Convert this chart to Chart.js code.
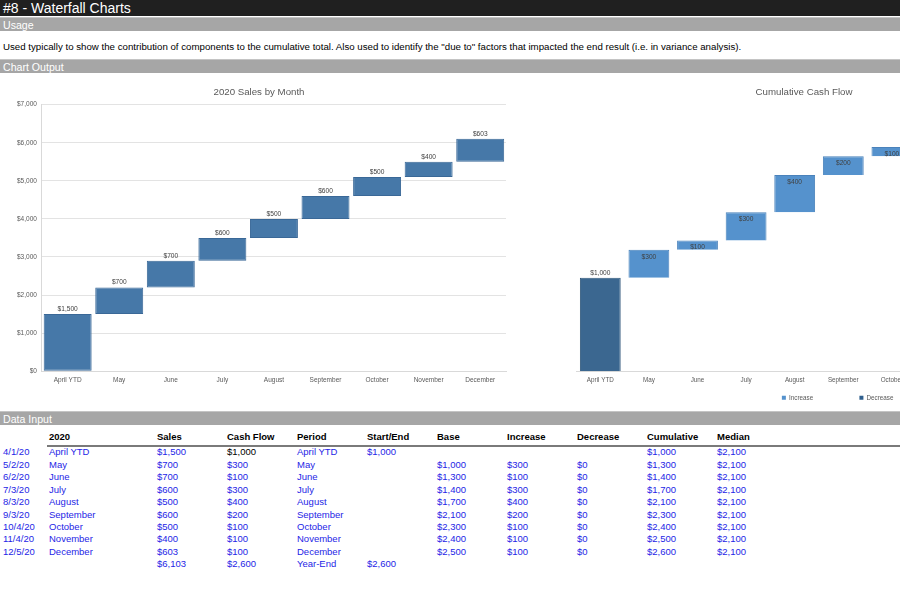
<!DOCTYPE html>
<html lang="en">
<head>
<meta charset="UTF-8">
<title>#8 - Waterfall Charts</title>
<script src="https://cdn.jsdelivr.net/npm/chart.js"></script>
<style>
    html, body {
        margin: 0;
        padding: 0;
        width: 900px;
        height: 600px;
        overflow: hidden;
        background: #fff;
        font-family: 'Liberation Sans', Arial, sans-serif;
    }
    .titlebar {
        position: absolute;
        left: 0; top: 0;
        width: 900px; height: 16px;
        background: #202020;
        color: #fff;
        font-size: 14px;
        line-height: 16px;
        padding-left: 3px;
        box-sizing: border-box;
    }
    .band {
        position: absolute;
        left: 0;
        width: 900px; height: 14px;
        background: #a6a6a6;
        border-top: 1px solid #c4c4c4;
        color: #fff;
        font-size: 10.6px;
        line-height: 14px;
        padding-left: 3px;
        box-sizing: border-box;
    }
    .usage-text {
        position: absolute;
        left: 3px; top: 41px;
        font-size: 9.7px;
        color: #000;
        white-space: nowrap;
    }
    canvas { position: absolute; }
    .cell {
        position: absolute;
        font-size: 9.5px;
        line-height: 12px;
        white-space: nowrap;
        color: #1e1ee6;
    }
    .cell.head { font-weight: bold; color: #000; }
    .cell.black { color: #000; }
    .rule {
        position: absolute;
        left: 47px; top: 445px;
        width: 853px; height: 2px;
        background: #7a7a7a;
    }
</style>
</head>
<body>
    <div class="titlebar">#8 - Waterfall Charts</div>
    <div class="band" style="top:17px">Usage</div>
    <div class="usage-text">Used typically to show the contribution of components to the cumulative total. Also used to identify the "due to" factors that impacted the end result (i.e. in variance analysis).</div>
    <div class="band" style="top:59px">Chart Output</div>

    <canvas id="salesChart" width="524" height="309" style="left:0;top:80px"></canvas>
    <canvas id="cashChart" width="516" height="331" style="left:546px;top:80px"></canvas>

    <div class="band" style="top:411px">Data Input</div>
    <div class="rule"></div>
    <div id="table"></div>

<script>
    // chart data
    const months = ['April YTD', 'May', 'June', 'July', 'August', 'September', 'October', 'November', 'December'];
    const dates = ['4/1/20', '5/2/20', '6/2/20', '7/3/20', '8/3/20', '9/3/20', '10/4/20', '11/4/20', '12/5/20'];
    const sales = [1500, 700, 700, 600, 500, 600, 500, 400, 603];
    const cashFlow = [1000, 300, 100, 300, 400, 200, 100, 100, 100];

    const periods = ['April YTD', 'May', 'June', 'July', 'August', 'September', 'October', 'November', 'December', 'Year-End'];
    const startEnd = [1000, null, null, null, null, null, null, null, null, 2600];
    const base = [null, 1000, 1300, 1400, 1700, 2100, 2300, 2400, 2500, null];
    const increase = [null, 300, 100, 300, 400, 200, 100, 100, 100, null];
    const decrease = [null, 0, 0, 0, 0, 0, 0, 0, 0, null];
    const cumulative = [1000, 1300, 1400, 1700, 2100, 2300, 2400, 2500, 2600];
    const median = [2100, 2100, 2100, 2100, 2100, 2100, 2100, 2100, 2100];

    const salesTicks = { min: 0, max: 7000, step: 1000 };

    const money = v => '$' + v.toLocaleString('en-US');
    const FONT = "'Liberation Sans', Arial, sans-serif";
    const nbsp = n => '\u00a0'.repeat(n);

    // waterfall ranges for the sales chart
    let running = 0;
    const salesRanges = sales.map(v => {
        const r = [running, running + v];
        running += v;
        return r;
    });

    // value labels drawn on top of / inside the bars
    const barLabels = {
        id: 'barLabels',
        afterDatasetsDraw(chart) {
            const ctx = chart.ctx;
            ctx.save();
            ctx.font = '6.6px ' + FONT;
            ctx.fillStyle = '#404040';
            ctx.textAlign = 'center';
            ctx.textBaseline = 'middle';
            chart.data.datasets.forEach((ds, i) => {
                if (!ds.labelPos) return;
                const meta = chart.getDatasetMeta(i);
                meta.data.forEach((bar, j) => {
                    const v = ds.labelValues ? ds.labelValues[j] : ds.data[j];
                    if (v == null || v === 0) return;
                    const y = ds.labelPos === 'inside' ? bar.y + 7 : bar.y - 5;
                    ctx.fillText(money(v), bar.x, y);
                });
            });
            ctx.restore();
        }
    };

    Chart.defaults.font.family = FONT;
    Chart.defaults.color = '#595959';

    new Chart(document.getElementById('salesChart'), {
        type: 'bar',
        data: {
            labels: months,
            datasets: [{
                label: 'Sales',
                data: salesRanges,
                labelValues: sales,
                labelPos: 'above',
                backgroundColor: '#4678a8',
                borderColor: '#3a6897',
                borderWidth: 1,
                borderSkipped: false,
                barPercentage: 0.93,
                categoryPercentage: 1
            }]
        },
        options: {
            responsive: false,
            animation: false,
            layout: { padding: { left: 12, right: 18 } },
            plugins: {
                legend: { display: false },
                tooltip: { enabled: false },
                title: {
                    display: true,
                    text: '2020 Sales by Month',
                    color: '#595959',
                    font: { size: 9.7, weight: 'normal' },
                    padding: { top: 7, bottom: 6 }
                }
            },
            scales: {
                x: {
                    grid: { display: false, drawTicks: false },
                    border: { color: '#d9d9d9' },
                    ticks: { font: { size: 6.5 }, padding: 5, maxRotation: 0, autoSkip: false }
                },
                y: {
                    min: salesTicks.min,
                    max: salesTicks.max,
                    grid: { color: '#e3e3e3', drawTicks: false },
                    border: { color: '#d9d9d9' },
                    ticks: {
                        stepSize: salesTicks.step,
                        font: { size: 6.5 },
                        padding: 5,
                        callback: v => money(v)
                    }
                }
            }
        },
        plugins: [barLabels]
    });

    // legend entries: a blank spacer first so the two real entries sit where Excel put them
    const legendText = { 'Base': nbsp(31), 'Increase': 'Increase' + nbsp(23), 'Decrease': 'Decrease' };

    new Chart(document.getElementById('cashChart'), {
        type: 'bar',
        data: {
            labels: periods,
            datasets: [{
                label: 'Base',
                data: base,
                backgroundColor: 'rgba(0,0,0,0)',
                borderWidth: 0
            }, {
                label: 'Start/End',
                data: startEnd,
                labelPos: 'above',
                backgroundColor: '#3b6790',
                borderColor: '#33597d',
                borderWidth: 1
            }, {
                label: 'Increase',
                data: increase,
                labelPos: 'inside',
                backgroundColor: '#5592cd',
                borderColor: '#4a82bb',
                borderWidth: 1
            }, {
                label: 'Decrease',
                data: decrease,
                labelPos: 'inside',
                backgroundColor: '#2f5f8e',
                borderColor: '#2f5f8e',
                borderWidth: 1
            }]
        },
        options: {
            responsive: false,
            animation: false,
            barPercentage: 0.84,
            categoryPercentage: 1,
            plugins: {
                tooltip: { enabled: false },
                title: {
                    display: true,
                    text: 'Cumulative Cash Flow',
                    color: '#595959',
                    font: { size: 9.7, weight: 'normal' },
                    padding: { top: 7, bottom: 11 }
                },
                legend: {
                    position: 'bottom',
                    labels: {
                        boxWidth: 4,
                        boxHeight: 4,
                        padding: 6,
                        font: { size: 6.3 },
                        generateLabels(chart) {
                            return chart.data.datasets
                                .map((ds, i) => ({ ds, i }))
                                .filter(o => o.ds.label in legendText)
                                .map(o => {
                                    const blank = o.ds.label === 'Base';
                                    return {
                                        text: legendText[o.ds.label],
                                        fillStyle: blank ? 'rgba(0,0,0,0)' : o.ds.backgroundColor,
                                        strokeStyle: blank ? 'rgba(0,0,0,0)' : o.ds.backgroundColor,
                                        lineWidth: 0,
                                        fontColor: '#595959',
                                        datasetIndex: o.i,
                                        hidden: false
                                    };
                                });
                        }
                    }
                }
            },
            scales: {
                x: {
                    stacked: true,
                    grid: { display: false, drawTicks: false },
                    border: { color: '#d9d9d9' },
                    ticks: { font: { size: 6.3 }, padding: 5, maxRotation: 0, autoSkip: false }
                },
                y: {
                    // value axis is hidden in the original; it only reserves room on the left
                    stacked: true,
                    min: 0,
                    max: 2800,
                    grid: { display: false },
                    border: { display: false },
                    ticks: { display: false },
                    afterFit(scale) { scale.width = 30; }
                }
            }
        },
        plugins: [barLabels]
    });

    // data input table, built from the same arrays
    const colX = [3, 49, 157, 227, 297, 367, 437, 507, 577, 647, 717];
    const heads = ['', '2020', 'Sales', 'Cash Flow', 'Period', 'Start/End', 'Base', 'Increase', 'Decrease', 'Cumulative', 'Median'];
    const rows = months.map((m, i) => [
        dates[i], m, money(sales[i]), money(cashFlow[i]), periods[i],
        startEnd[i] != null ? money(startEnd[i]) : '',
        base[i] != null ? money(base[i]) : '',
        increase[i] != null ? money(increase[i]) : '',
        decrease[i] != null ? money(decrease[i]) : '',
        money(cumulative[i]), money(median[i])
    ]);
    const totalSales = sales.reduce((a, b) => a + b, 0);
    const totalCash = cashFlow.reduce((a, b) => a + b, 0);
    rows.push(['', '', money(totalSales), money(totalCash), periods[periods.length - 1], money(startEnd[startEnd.length - 1]), '', '', '', '', '']);

    const table = document.getElementById('table');
    function addCell(text, x, y, cls) {
        if (!text) return;
        const d = document.createElement('div');
        d.className = 'cell' + (cls ? ' ' + cls : '');
        d.style.left = x + 'px';
        d.style.top = (y - 6) + 'px';
        d.textContent = text;
        table.appendChild(d);
    }
    heads.forEach((h, c) => addCell(h, colX[c], 437, 'head'));
    rows.forEach((r, i) => {
        const y = 452.3 + i * 12.45;
        r.forEach((t, c) => addCell(t, colX[c], y, (i === 0 && c === 3) ? 'black' : ''));
    });
</script>
</body>
</html>
